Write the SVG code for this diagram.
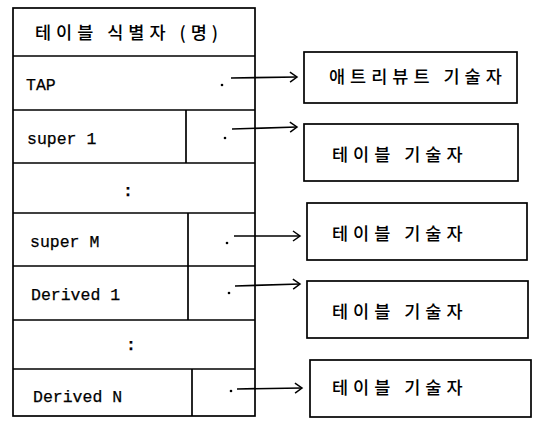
<svg xmlns="http://www.w3.org/2000/svg" width="533" height="427" viewBox="0 0 533 427">
<style>
.ln{fill:none;stroke:#000;stroke-width:1.7}
.bx{fill:#fff;stroke:#000;stroke-width:1.7}
.ko{font-family:"Noto Sans CJK KR","Noto Sans",sans-serif;font-size:17.5px;font-weight:500;letter-spacing:5px;fill:#000}
.mo{font-family:"Liberation Mono",monospace;font-size:16.5px;fill:#000;stroke:#000;stroke-width:0.25}
.dot{fill:#000}
</style>
<defs>
<marker id="ah" markerWidth="10" markerHeight="12" refX="8" refY="6" orient="auto" markerUnits="userSpaceOnUse">
<polyline points="1,1 8,6 1,11" fill="none" stroke="#000" stroke-width="1.5"/>
</marker>
</defs>
<rect width="533" height="427" fill="#fff"/>
<g id="table">
<rect class="bx" x="13" y="8" width="242" height="408"/>
<line class="ln" x1="13" y1="56" x2="255" y2="56"/>
<line class="ln" x1="13" y1="110" x2="255" y2="110"/>
<line class="ln" x1="13" y1="163" x2="255" y2="163"/>
<line class="ln" x1="13" y1="213" x2="255" y2="213"/>
<line class="ln" x1="13" y1="266" x2="255" y2="266"/>
<line class="ln" x1="13" y1="320" x2="255" y2="320"/>
<line class="ln" x1="13" y1="369" x2="255" y2="369"/>
<line class="ln" x1="186" y1="110" x2="186" y2="163"/>
<line class="ln" x1="188" y1="213" x2="188" y2="320"/>
<line class="ln" x1="192" y1="369" x2="192" y2="416"/>
<text class="ko" x="35" y="39" font-size="18.5" letter-spacing="6">테이블 식별자 (명)</text>
<text class="mo" x="26" y="90">TAP</text>
<text class="mo" x="27" y="144">super 1</text>
<text class="mo" x="30" y="247">super M</text>
<text class="mo" x="31" y="300">Derived 1</text>
<text class="mo" x="33" y="402">Derived N</text>
<text class="mo" x="123" y="196" font-weight="bold">:</text>
<text class="mo" x="126" y="350" font-weight="bold">:</text>
<circle class="dot" cx="222" cy="85" r="1.3"/>
<circle class="dot" cx="225" cy="138" r="1.3"/>
<circle class="dot" cx="227" cy="243" r="1.3"/>
<circle class="dot" cx="229" cy="293" r="1.3"/>
<circle class="dot" cx="231" cy="391" r="1.3"/>
</g>
<g id="attr-desc">
<rect class="bx" x="304" y="52" width="213" height="51"/>
<text class="ko" x="329" y="83" letter-spacing="4.5">애트리뷰트 기술자</text>
</g>
<g id="table-desc-1">
<rect class="bx" x="304" y="124" width="214" height="57"/>
<text class="ko" x="332" y="161">테이블 기술자</text>
</g>
<g id="table-desc-2">
<rect class="bx" x="307" y="203" width="220" height="57"/>
<text class="ko" x="332" y="240">테이블 기술자</text>
</g>
<g id="table-desc-3">
<rect class="bx" x="307" y="281" width="221" height="57"/>
<text class="ko" x="332" y="318">테이블 기술자</text>
</g>
<g id="table-desc-4">
<rect class="bx" x="310" y="360" width="221" height="57"/>
<text class="ko" x="332" y="394">테이블 기술자</text>
</g>
<g id="connectors">
<line class="ln" x1="231" y1="78" x2="297" y2="77" marker-end="url(#ah)"/>
<line class="ln" x1="232" y1="129" x2="297" y2="127" marker-end="url(#ah)"/>
<line class="ln" x1="234" y1="236" x2="300" y2="236" marker-end="url(#ah)"/>
<line class="ln" x1="235" y1="286" x2="300" y2="284" marker-end="url(#ah)"/>
<line class="ln" x1="237" y1="389" x2="302" y2="388" marker-end="url(#ah)"/>
</g>
</svg>
